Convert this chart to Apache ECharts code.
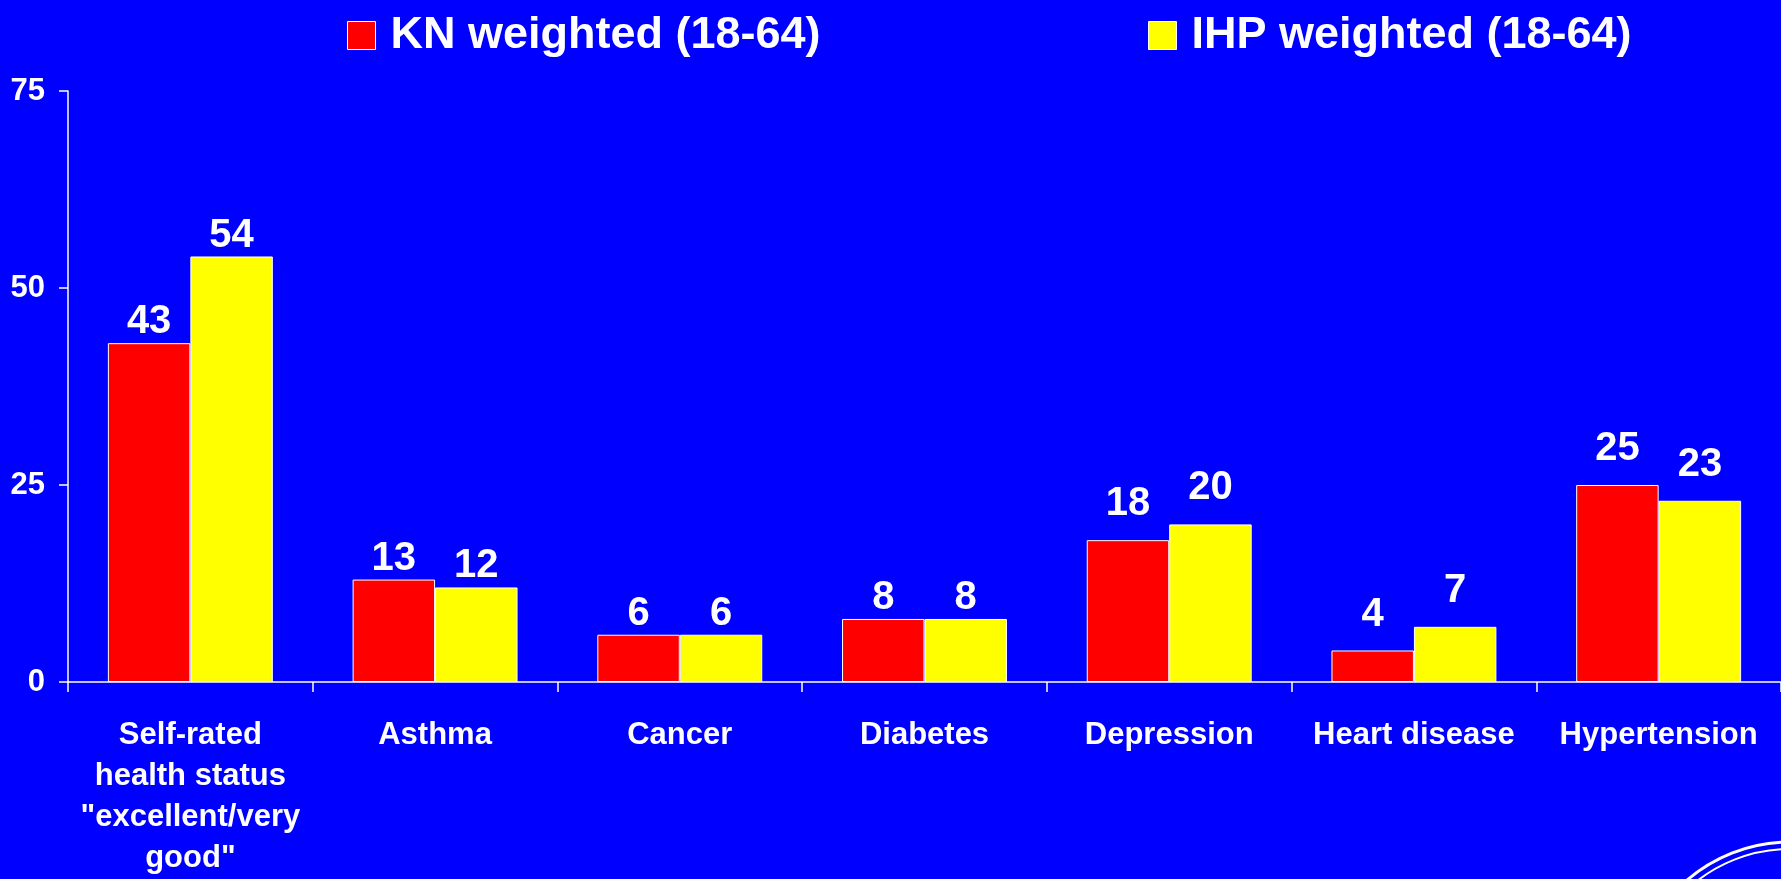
<!DOCTYPE html>
<html>
<head>
<meta charset="utf-8">
<script src="https://cdn.jsdelivr.net/npm/echarts@6/dist/echarts.min.js"></script>
<style>
html,body{margin:0;padding:0;background:#0000ff;}
#chart{width:1781px;height:879px;}
</style>
</head>
<body>
<div id="chart"></div>
<script>
const categories = ['Self-rated\nhealth status\n"excellent/very\ngood"', 'Asthma', 'Cancer', 'Diabetes', 'Depression', 'Heart disease', 'Hypertension'];
const seriesNames = ['KN weighted (18-64)', 'IHP weighted (18-64)'];
const knValues = [43, 13, 6, 8, 18, 4, 25];
const ihpValues = [54, 12, 6, 8, 20, 7, 23];
const yTicks = [0, 25, 50, 75];

// label distance above bars (style only)
const labelDistances = [1, 1, 1, 1, 16, 16, 16];

const FONT = '"Liberation Sans", Arial, sans-serif';

function items(vals) {
  return vals.map((v, i) => ({ value: v, label: { distance: labelDistances[i] } }));
}

const chart = echarts.init(document.getElementById('chart'));
const labelStyle = { show: true, position: 'top', color: '#ffffff', fontFamily: FONT, fontWeight: 'bold', fontSize: 40 };
const legendText = { color: '#ffffff', fontFamily: FONT, fontWeight: 'bold', fontSize: 45, padding: [0, 0, 0, 10] };

chart.setOption({
  backgroundColor: '#0000ff',
  animation: false,
  legend: [
    { data: [seriesNames[0]], left: 347, top: 13, padding: 0, itemWidth: 28, itemHeight: 28, icon: 'rect',
      itemStyle: { borderColor: '#ffffff', borderWidth: 1 }, textStyle: legendText },
    { data: [seriesNames[1]], left: 1148, top: 13, padding: 0, itemWidth: 28, itemHeight: 28, icon: 'rect',
      itemStyle: { borderColor: '#ffffff', borderWidth: 1 }, textStyle: legendText }
  ],
  grid: { left: 68, right: 0, top: 91, bottom: 192, containLabel: false },
  xAxis: {
    type: 'category',
    data: categories,
    axisLine: { lineStyle: { color: '#ffffff', width: 1.5 } },
    axisTick: { show: true, length: 10, lineStyle: { color: '#ffffff', width: 1.5 } },
    axisLabel: { color: '#ffffff', fontFamily: FONT, fontWeight: 'bold', fontSize: 31, lineHeight: 41, margin: 33, interval: 0 }
  },
  yAxis: {
    type: 'value',
    min: yTicks[0],
    max: yTicks[yTicks.length - 1],
    interval: yTicks[1] - yTicks[0],
    splitLine: { show: false },
    axisLine: { show: true, lineStyle: { color: '#ffffff', width: 1.5 } },
    axisTick: { show: true, length: 9, lineStyle: { color: '#ffffff', width: 1.5 } },
    axisLabel: { color: '#ffffff', fontFamily: FONT, fontWeight: 'bold', fontSize: 31, margin: 23 }
  },
  series: [
    { name: seriesNames[0], type: 'bar', data: items(knValues), barGap: '0%', barCategoryGap: '32.6%',
      itemStyle: { color: '#ff0000', borderColor: '#ffffff', borderWidth: 1 }, label: labelStyle },
    { name: seriesNames[1], type: 'bar', data: items(ihpValues), barGap: '0%', barCategoryGap: '32.6%',
      itemStyle: { color: '#ffff00', borderColor: '#ffffff', borderWidth: 1 }, label: labelStyle }
  ],
  graphic: [
    { type: 'circle', silent: true, shape: { cx: 1790, cy: 1000, r: 158 }, style: { fill: 'none', stroke: '#ffffff', lineWidth: 3 } },
    { type: 'circle', silent: true, shape: { cx: 1790, cy: 1000, r: 151 }, style: { fill: 'none', stroke: '#ffffff', lineWidth: 2 } }
  ]
});
</script>
</body>
</html>
